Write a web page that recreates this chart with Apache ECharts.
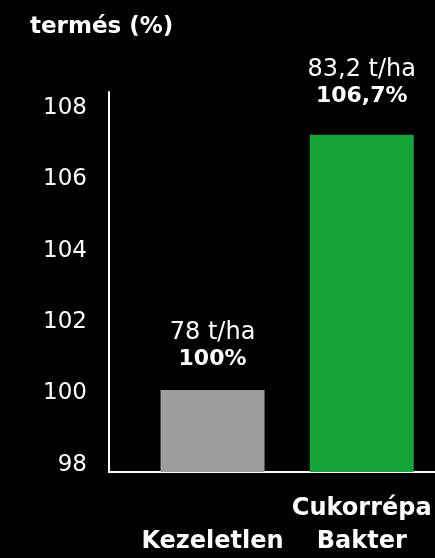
<!DOCTYPE html>
<html>
<head>
<meta charset="utf-8">
<script src="https://cdn.jsdelivr.net/npm/echarts@6/dist/echarts.min.js"></script>
<style>
  html, body { margin: 0; padding: 0; background: #000; }
</style>
</head>
<body>
<div id="myChart" style="width:435px;height:558px"></div>
<script>
var categories = ['Kezeletlen', 'Cukorrépa\nBakter']
var categoryPos = [1, 2]
var values = [100.1, 107.25]
var yieldLabels = ['78 t/ha', '83,2 t/ha']
var percentLabels = ['100%', '106,7%']
var yTicks = [98, 100, 102, 104, 106, 108]

var colors = ['#9d9d9c', '#15a538']
var labelGaps = [17, 25]
var font = 'DejaVu Sans'

var myChart = echarts.init(document.getElementById('myChart'))

var barData = values.map(function (v, i) {
  return {
    value: [categoryPos[i], v],
    itemStyle: { color: colors[i] },
    label: {
      distance: labelGaps[i],
      formatter: '{a|' + yieldLabels[i] + '}\n{b|' + percentLabels[i] + '}'
    }
  }
})

var options = {
  backgroundColor: '#000',
  animation: false,
  title: {
    text: 'termés (%)',
    left: 25,
    top: 11,
    textStyle: { color: '#fff', fontFamily: font, fontWeight: 'bold', fontSize: 23 }
  },
  grid: { left: 109, right: 0, top: 92, bottom: 82 },
  xAxis: {
    type: 'value',
    min: 0.306,
    max: 2.491,
    splitLine: { show: false },
    axisTick: { show: false },
    axisLine: { show: true, onZero: false, lineStyle: { color: '#fff', width: 2 } },
    axisLabel: {
      customValues: categoryPos,
      formatter: function (v) { return categories[Math.round(v) - 1] },
      color: '#fff',
      fontFamily: font,
      fontWeight: 'bold',
      fontSize: 24,
      lineHeight: 33,
      verticalAlign: 'bottom',
      margin: 86
    }
  },
  yAxis: {
    type: 'value',
    min: 97.8,
    max: 108.45,
    splitLine: { show: false },
    axisTick: { show: false },
    axisLine: { show: true, lineStyle: { color: '#fff', width: 2 } },
    axisLabel: {
      customValues: yTicks,
      color: '#fff',
      fontFamily: font,
      fontSize: 23,
      margin: 22
    }
  },
  series: [{
    type: 'bar',
    barWidth: 104,
    data: barData,
    label: {
      show: true,
      position: 'top',
      color: '#fff',
      rich: {
        a: { fontFamily: font, fontSize: 24, color: '#fff', lineHeight: 27 },
        b: { fontFamily: font, fontSize: 22, fontWeight: 'bold', color: '#fff', lineHeight: 27 }
      }
    }
  }]
}

myChart.setOption(options)
</script>
</body>
</html>
